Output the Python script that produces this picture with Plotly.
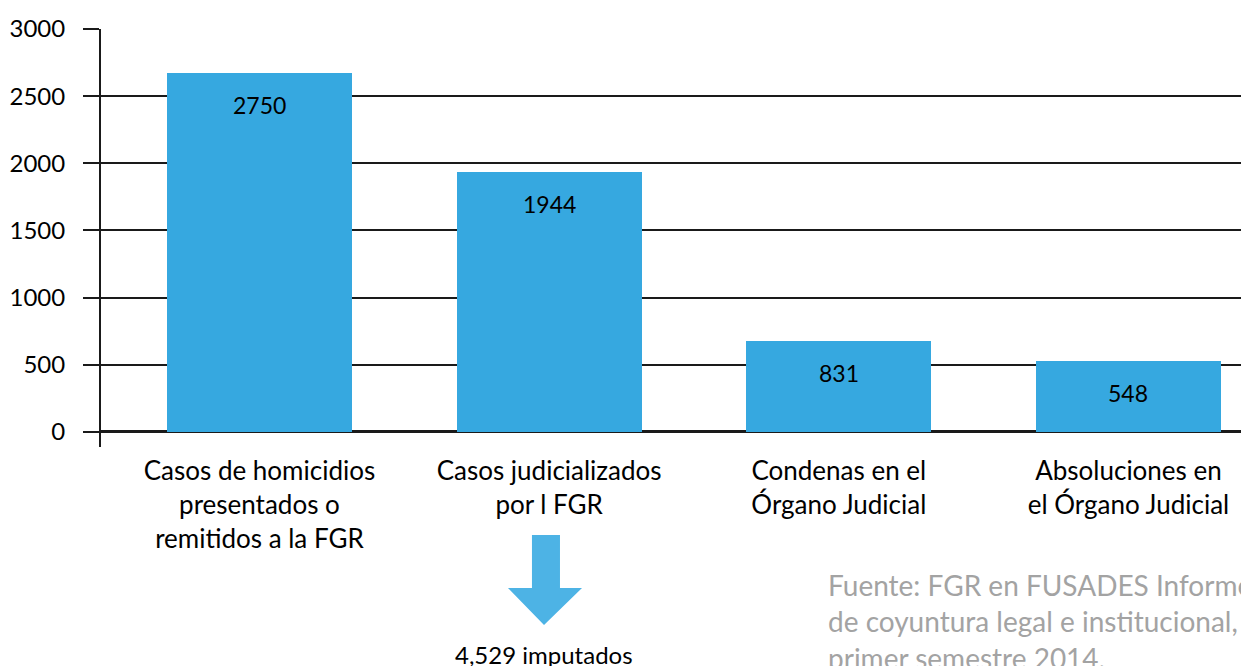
import plotly.graph_objects as go

categories = [
    "Casos de homicidios<br>presentados o<br>remitidos a la FGR",
    "Casos judicializados<br>por l FGR",
    "Condenas en el<br>Órgano Judicial",
    "Absoluciones en<br>el Órgano Judicial",
]
bar_heights = [2672, 1935, 677, 528]          # bar heights as drawn
bar_labels = ["2750", "1944", "831", "548"]   # labels printed on bars
y_ticks = [0, 500, 1000, 1500, 2000, 2500, 3000]
note_text = "4,529 imputados"
source_text = "Fuente: FGR en FUSADES Informe<br>de coyuntura legal e institucional,<br>primer semestre 2014."

FONT = "Lato, Open Sans, sans-serif"
BAR_COLOR = "#36A8E0"
x_pos = list(range(len(categories)))

fig = go.Figure()
fig.add_trace(go.Bar(
    x=x_pos, y=bar_heights, width=0.639,
    marker=dict(color=BAR_COLOR, line=dict(width=0)),
    hoverinfo="skip", showlegend=False,
))

for xi, h, lab in zip(x_pos, bar_heights, bar_labels):
    fig.add_annotation(x=xi, y=h, xref="x", yref="y", text=lab, showarrow=False,
                       yanchor="middle", yshift=-32,
                       font=dict(family=FONT, size=23, color="#000000"))

# arrow below the second category
arrow_path = ("M 0.3754 -0.2105 L 0.3998 -0.2105 L 0.3998 -0.3373 L 0.4190 -0.3373 "
              "L 0.3859 -0.4258 L 0.3545 -0.3373 L 0.3754 -0.3373 Z")
fig.add_shape(type="path", path=arrow_path, xref="paper", yref="paper",
              fillcolor="#4DB3E5", line=dict(width=0))

fig.add_annotation(x=0.3859, y=-0.4976, xref="paper", yref="paper", text=note_text,
                   showarrow=False, xanchor="center", yanchor="middle",
                   font=dict(family=FONT, size=24, color="#000000"))

fig.add_annotation(x=0.6318, y=-0.285, xref="paper", yref="paper", text=source_text,
                   showarrow=False, xanchor="left", yanchor="top", align="left",
                   font=dict(family=FONT, size=28, color="#A3A3A3"))

fig.update_layout(
    width=1241, height=658,
    margin=dict(l=93, r=0, t=21, b=219),
    paper_bgcolor="white", plot_bgcolor="white",
    bargap=0,
    xaxis=dict(range=[-0.547, 3.416], tickvals=x_pos, ticktext=categories,
               showgrid=False, zeroline=False, showline=False, ticks="",
               ticklabelstandoff=6,
               tickfont=dict(family=FONT, size=26, color="#000000")),
    yaxis=dict(range=[-112, 3000], tickvals=y_ticks,
               showgrid=True, gridcolor="#1a1a1a", gridwidth=2,
               zeroline=True, zerolinecolor="#1a1a1a", zerolinewidth=3,
               showline=True, linecolor="#1a1a1a", linewidth=2,
               ticks="outside", ticklen=16, tickwidth=2, tickcolor="#1a1a1a",
               ticklabelstandoff=13,
               tickfont=dict(family=FONT, size=24, color="#000000")),
)

fig.write_html("out.html")
